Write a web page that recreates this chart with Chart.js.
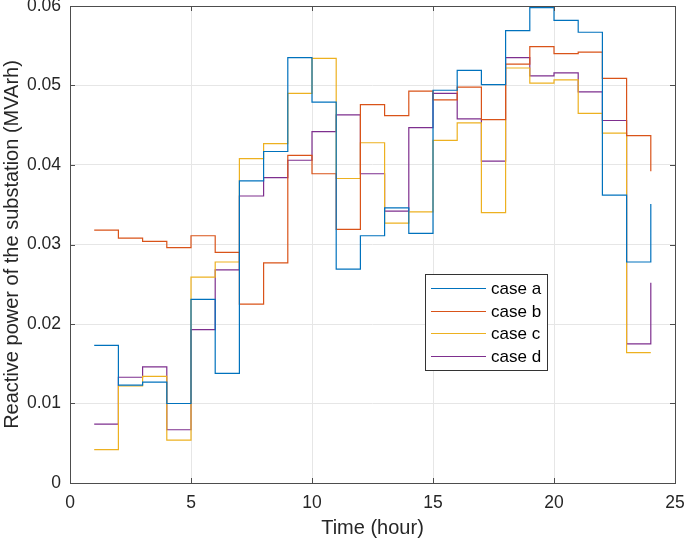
<!DOCTYPE html>
<html>
<head>
<meta charset="utf-8">
<script src="https://cdn.jsdelivr.net/npm/chart.js@4/dist/chart.umd.min.js"></script>
<style>
  html, body { margin: 0; padding: 0; background: #fff; }
  #wrap { width: 685px; height: 541px; }
</style>
</head>
<body>
<div id="wrap"><canvas id="reactivePower"></canvas></div>
<script>
// Hours and reactive power per case (MVArh)
const hours = [1, 2, 3, 4, 5, 6, 7, 8, 9, 10, 11, 12, 13, 14, 15, 16, 17, 18, 19, 20, 21, 22, 23, 24];
const caseA = [0.0173, 0.0123, 0.0127, 0.0100, 0.0231, 0.0138, 0.0380, 0.0417, 0.0535, 0.0479, 0.0269, 0.0311,
               0.0346, 0.0314, 0.0494, 0.0519, 0.0501, 0.0569, 0.0598, 0.0582, 0.0567, 0.0362, 0.0278, 0.0351];
const caseB = [0.0318, 0.0308, 0.0304, 0.0296, 0.0311, 0.0290, 0.0225, 0.0277, 0.0412, 0.0389, 0.0319, 0.0476,
               0.0462, 0.0493, 0.0482, 0.0498, 0.0457, 0.0527, 0.0549, 0.0540, 0.0542, 0.0509, 0.0437, 0.0392];
const caseC = [0.0042, 0.0122, 0.0134, 0.0054, 0.0259, 0.0278, 0.0408, 0.0427, 0.0490, 0.0534, 0.0383, 0.0428,
               0.0327, 0.0341, 0.0431, 0.0453, 0.0340, 0.0522, 0.0503, 0.0507, 0.0465, 0.0440, 0.0164, 0.0164];
const caseD = [0.0074, 0.0133, 0.0146, 0.0067, 0.0193, 0.0268, 0.0361, 0.0384, 0.0406, 0.0442, 0.0463, 0.0389,
               0.0342, 0.0447, 0.0490, 0.0458, 0.0405, 0.0535, 0.0512, 0.0516, 0.0492, 0.0456, 0.0175, 0.0252];
const caseNames = ['case a', 'case b', 'case c', 'case d'];
const caseColors = ['#0072BD', '#D95319', '#EDB120', '#7E2F8E'];

const xTicks = [0, 5, 10, 15, 20, 25];
const yTicks = [0, 0.01, 0.02, 0.03, 0.04, 0.05, 0.06];

const FONT = '"Liberation Sans", Arial, sans-serif';
const AXIS_COLOR = '#4d4d4d';

function toPoints(values) {
    return hours.map((h, i) => ({ x: h, y: values[i] }));
}

// box round the axes with inward ticks on all four sides (matlab style)
const boxAndTicks = {
    id: 'boxAndTicks',
    afterDatasetsDraw(chart) {
        const { ctx, chartArea: a, scales } = chart;
        const len = 5;
        ctx.save();
        ctx.strokeStyle = AXIS_COLOR;
        ctx.lineWidth = 1;
        ctx.strokeRect(a.left + 0.5, a.top + 0.5, a.right - a.left, a.bottom - a.top);
        ctx.beginPath();
        xTicks.forEach(v => {
            const px = Math.round(scales.x.getPixelForValue(v)) + 0.5;
            ctx.moveTo(px, a.bottom); ctx.lineTo(px, a.bottom - len);
            ctx.moveTo(px, a.top); ctx.lineTo(px, a.top + len);
        });
        yTicks.forEach(v => {
            const py = Math.round(scales.y.getPixelForValue(v)) + 0.5;
            ctx.moveTo(a.left, py); ctx.lineTo(a.left + len, py);
            ctx.moveTo(a.right, py); ctx.lineTo(a.right - len, py);
        });
        ctx.stroke();
        ctx.restore();
    }
};

// legend box inside the plot, like the figure
const insideLegend = {
    id: 'insideLegend',
    afterDraw(chart) {
        const { ctx } = chart;
        const left = 425, top = 274, w = 122, h = 96;
        const rowH = 22.7, firstRow = 288;
        ctx.save();
        ctx.fillStyle = '#fff';
        ctx.fillRect(left, top, w, h);
        ctx.strokeStyle = '#333';
        ctx.lineWidth = 1;
        ctx.strokeRect(left + 0.5, top + 0.5, w, h);
        ctx.font = '17px ' + FONT;
        ctx.textBaseline = 'middle';
        chart.data.datasets.forEach((ds, i) => {
            const y = Math.round(firstRow + i * rowH) + 0.5;
            ctx.strokeStyle = ds.borderColor;
            ctx.beginPath();
            ctx.moveTo(431, y); ctx.lineTo(486, y);
            ctx.stroke();
            ctx.fillStyle = '#000';
            ctx.fillText(ds.label, 491, y + 1);
        });
        ctx.restore();
    }
};

const datasets = [caseA, caseB, caseC, caseD].map((vals, i) => ({
    label: caseNames[i],
    data: toPoints(vals),
    borderColor: caseColors[i],
    backgroundColor: caseColors[i],
    borderWidth: 1.2,
    pointRadius: 0,
    stepped: true,
    fill: false
}));

const reactivePower = new Chart(document.getElementById('reactivePower'), {
    type: 'line',
    data: { datasets: datasets },
    options: {
        responsive: true,
        maintainAspectRatio: false,
        animation: false,
        layout: { padding: { top: 6, right: 10, bottom: 1, left: 0 } },
        plugins: {
            legend: { display: false },
            tooltip: { enabled: false }
        },
        scales: {
            x: {
                type: 'linear',
                min: 0,
                max: 25,
                afterFit: s => { s.height = 57; s.paddingLeft = 0; s.paddingRight = 0; },
                afterBuildTicks: s => { s.ticks = xTicks.map(v => ({ value: v })); },
                grid: { color: '#e6e6e6', tickLength: 0, drawTicks: false },
                border: { display: false },
                ticks: {
                    color: '#262626',
                    padding: 10,
                    maxRotation: 0,
                    font: { size: 17.5, family: FONT }
                },
                title: {
                    display: true,
                    text: 'Time (hour)',
                    color: '#262626',
                    padding: { top: 0, bottom: 0 },
                    font: { size: 20, family: FONT }
                }
            },
            y: {
                type: 'linear',
                min: 0,
                max: 0.06,
                afterFit: s => { s.width = 70; s.paddingTop = 0; s.paddingBottom = 0; },
                afterBuildTicks: s => { s.ticks = yTicks.map(v => ({ value: v })); },
                grid: { color: '#e6e6e6', tickLength: 0, drawTicks: false },
                border: { display: false },
                ticks: {
                    color: '#262626',
                    padding: 9,
                    font: { size: 17.5, family: FONT },
                    callback: v => (v === 0 ? '0' : v.toFixed(2))
                },
                title: {
                    display: true,
                    text: 'Reactive power of the substation (MVArh)',
                    color: '#262626',
                    padding: { top: 0, bottom: 0 },
                    font: { size: 20, family: FONT }
                }
            }
        }
    },
    plugins: [boxAndTicks, insideLegend]
});
</script>
</body>
</html>
